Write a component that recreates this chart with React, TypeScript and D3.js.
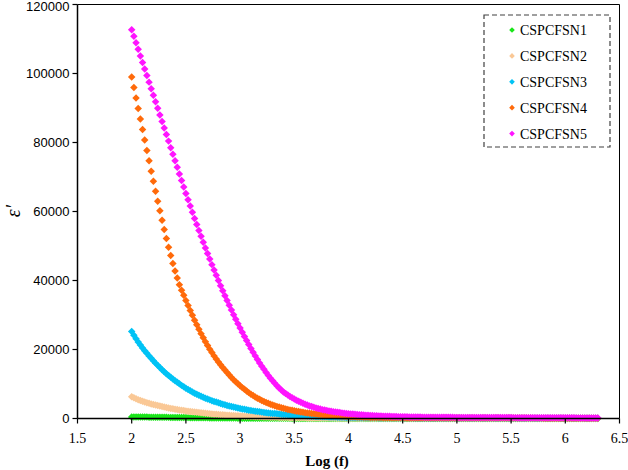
import React from "react";
import * as d3 from "d3";

// Measurement grid: log10(f) from 2.00 to 6.30 in 0.02 steps (216 points)
const logF: number[] = d3.range(0, 216).map((i) => +(2 + i * 0.02).toFixed(2));

const seriesNames = ["CSPCFSN1", "CSPCFSN2", "CSPCFSN3", "CSPCFSN4", "CSPCFSN5"];

const cspcfsn1 = [
  460,452,444,436,428,420,412,404,396,388,
  380,372,364,356,348,340,332,324,316,308,
  300,292,284,276,268,260,252,244,236,228,
  220,213,206,199,192,185,178,171,164,157,
  150,145,140,135,130,125,120,115,110,105,
  100,96,92,88,84,80,77,74,71,68,
  65,62,59,56,53,50,48,46,44,42,
  40,38,36,34,32,30,29,28,27,26,
  25,24,23,22,21,20,19,18,17,16,
  15,15,14,14,13,13,12,12,11,11,
  10,10,10,9,9,9,9,8,8,8,
  8,8,7,7,7,7,7,6,6,6,
  6,6,6,6,5,5,5,5,5,5,
  5,5,5,4,4,4,4,4,4,4,
  4,4,4,4,4,3,3,3,3,3,
  3,3,3,3,3,3,3,3,3,3,
  3,3,2,2,2,2,2,2,2,2,
  2,2,2,2,2,2,2,2,2,2,
  2,2,2,2,2,2,2,2,2,2,
  2,2,2,2,2,2,2,2,2,2,
  2,2,2,2,2,2,2,2,2,2,
  2,2,2,2,2,2,
];

const cspcfsn2 = [
  6300,6000,5720,5460,5220,5000,4790,4590,4400,4220,
  4050,3890,3740,3590,3450,3310,3180,3050,2930,2810,
  2700,2590,2490,2390,2290,2200,2110,2020,1940,1860,
  1780,1710,1640,1570,1500,1440,1380,1320,1260,1210,
  1160,1110,1060,1010,970,930,890,850,810,770,
  740,710,680,650,620,590,560,540,510,490,
  470,450,430,410,390,370,350,340,320,310,
  290,280,260,250,240,230,220,210,200,190,
  180,170,165,160,155,150,145,140,135,130,
  125,120,116,112,108,104,100,97,94,91,
  88,85,82,79,76,74,72,70,68,66,
  64,62,60,58,56,55,54,53,52,51,
  50,49,48,47,46,45,44,43,42,41,
  40,40,39,39,38,38,37,37,36,36,
  35,35,34,34,33,33,32,32,31,31,
  30,30,30,29,29,29,28,28,28,27,
  27,27,26,26,26,25,25,25,24,24,
  24,23,23,23,22,22,22,21,21,21,
  20,20,20,20,19,19,19,19,18,18,
  18,18,17,17,17,17,16,16,16,16,
  15,15,15,15,14,14,14,14,13,13,
  13,13,12,12,12,12,
];

const cspcfsn3 = [
  25200,24150,23150,22200,21300,20450,19650,18900,18150,17450,
  16750,16050,15400,14750,14150,13550,13000,12450,11950,11450,
  10950,10500,10050,9600,9200,8800,8400,8050,7700,7350,
  7050,6750,6450,6150,5900,5650,5400,5150,4950,4750,
  4550,4350,4150,3970,3800,3630,3470,3320,3170,3030,
  2900,2770,2650,2530,2420,2310,2210,2110,2020,1930,
  1850,1770,1690,1620,1550,1480,1420,1360,1300,1240,
  1190,1140,1090,1040,990,950,910,870,830,790,
  760,720,690,660,630,600,570,550,520,500,
  480,460,440,420,400,380,365,350,335,320,
  305,295,285,275,265,255,245,235,225,215,
  205,198,191,184,177,170,164,158,152,146,
  140,136,132,128,124,120,117,114,111,108,
  105,103,101,99,97,95,93,91,89,87,
  85,84,83,82,81,80,79,78,77,76,
  75,74,73,72,71,70,69,68,67,66,
  65,64,63,62,61,60,60,59,59,58,
  58,57,57,56,56,55,55,54,54,53,
  53,52,52,51,51,50,50,50,49,49,
  49,48,48,48,47,47,47,46,46,46,
  45,45,45,44,44,44,43,43,43,42,
  42,42,41,41,41,40,
];

const cspcfsn4 = [
  99000,95950,92900,89850,86800,83750,80700,77700,74700,71700,
  68750,65850,63000,60200,57450,54750,52150,49650,47250,44950,
  42750,40700,38750,37200,35700,34200,32750,31300,29900,28500,
  27150,25850,24600,23400,22250,21150,20100,19100,18150,17250,
  16400,15600,14800,14050,13300,12600,11900,11250,10650,10050,
  9500,8950,8450,7950,7500,7050,6650,6250,5900,5550,
  5250,4950,4650,4400,4150,3900,3700,3500,3300,3120,
  2950,2790,2640,2500,2370,2240,2120,2000,1900,1800,
  1700,1610,1520,1440,1360,1290,1220,1150,1090,1030,
  970,920,870,820,780,740,700,660,620,590,
  560,530,500,470,450,420,400,380,360,340,
  320,300,290,280,270,260,250,240,230,220,
  210,205,200,195,190,185,180,178,176,174,
  172,170,168,166,164,162,160,159,158,157,
  156,155,154,153,152,151,150,149,148,147,
  146,145,144,143,142,141,140,139,138,137,
  136,135,134,133,132,131,130,129,128,127,
  126,125,124,123,122,121,120,119,118,117,
  116,115,114,113,112,111,110,109,108,107,
  106,105,104,103,102,101,100,99,98,97,
  96,95,94,93,92,91,90,89,88,87,
  86,85,84,83,82,81,
];

const cspcfsn5 = [
  112700,110800,108900,107000,105100,103200,101300,99400,97500,95600,
  93700,91800,89900,88000,86100,84200,82300,80400,78500,76600,
  74700,72800,70900,69000,67100,65250,63400,61600,59800,58000,
  56250,54500,52800,51100,49450,47800,46200,44600,43050,41500,
  40000,38500,37050,35600,34200,32800,31450,30100,28800,27500,
  26250,25000,23800,22600,21450,20300,19200,18150,17100,16100,
  15150,14250,13350,12500,11700,10950,10200,9500,8850,8250,
  7700,7250,6800,6400,6000,5650,5300,5000,4700,4400,
  4150,3900,3650,3450,3250,3050,2880,2720,2570,2430,
  2320,2200,2090,1990,1890,1800,1710,1630,1550,1480,
  1410,1340,1280,1220,1160,1110,1060,1010,970,930,
  890,850,810,780,750,720,690,660,640,620,
  600,580,560,540,520,505,490,475,460,450,
  440,430,420,410,400,395,390,385,380,375,
  370,365,360,355,350,345,340,335,330,325,
  320,318,315,312,310,308,305,302,300,298,
  295,292,290,288,285,282,280,278,275,272,
  270,268,265,262,260,258,255,252,250,248,
  245,242,240,238,235,232,230,228,225,222,
  220,218,215,212,210,208,205,202,200,198,
  195,192,190,188,185,182,180,178,175,172,
  170,168,165,162,160,158,
];

const seriesValues = [cspcfsn1, cspcfsn2, cspcfsn3, cspcfsn4, cspcfsn5];
const seriesColors = ["#19e619", "#fac896", "#00c3f5", "#ff6a0a", "#ff14ff"];

const xTicks = [1.5, 2, 2.5, 3, 3.5, 4, 4.5, 5, 5.5, 6, 6.5];
const yTicks = [0, 20000, 40000, 60000, 80000, 100000, 120000];

const W = 628;
const H = 470;
const M = { left: 77.5, right: 619.5, top: 4.5, bottom: 418.5 };

export default function App() {
  const x = d3.scaleLinear().domain([1.5, 6.5]).range([M.left, M.right]);
  const y = d3.scaleLinear().domain([0, 120000]).range([M.bottom, M.top]);
  const diamond = d3.symbol().type(d3.symbolSquare).size(28)();
  const legendDiamond = d3.symbol().type(d3.symbolSquare).size(16)();

  const legendX = 484;
  const legendY = 15;
  const legendW = 126;
  const legendH = 132;

  return (
    <svg
      width={W}
      height={H}
      style={{ position: "absolute", left: 0, top: 0, background: "#fff" }}
    >
      <rect x={0} y={0} width={W} height={H} fill="#fff" />
      {/* series */}
      {seriesValues.map((vals, si) => (
        <g key={si} fill={seriesColors[si]}>
          {vals.map((v, i) => (
            <path
              key={i}
              d={diamond!}
              transform={`translate(${x(logF[i])},${y(v)}) rotate(45)`}
            />
          ))}
        </g>
      ))}
      {/* frame */}
      <line x1={M.left} x2={M.right} y1={M.top} y2={M.top} stroke="#000" strokeWidth={1} />
      <line x1={M.right} x2={M.right} y1={M.top} y2={M.bottom} stroke="#000" strokeWidth={1} />
      {/* axes */}
      <line x1={M.left} x2={M.left} y1={M.top} y2={M.bottom} stroke="#000" strokeWidth={1.5} />
      <line x1={M.left} x2={M.right} y1={M.bottom} y2={M.bottom} stroke="#000" strokeWidth={1.5} />
      {yTicks.map((t) => (
        <g key={t}>
          <line x1={M.left - 5} x2={M.left} y1={y(t)} y2={y(t)} stroke="#000" strokeWidth={1.2} />
          <text
            x={M.left - 8}
            y={Math.max(y(t) + 4.5, 10.5)}
            textAnchor="end"
            fontFamily="'Liberation Sans', Arial, sans-serif"
            fontSize={13}
            fill="#000"
          >
            {t}
          </text>
        </g>
      ))}
      {xTicks.map((t) => (
        <g key={t}>
          <line x1={x(t)} x2={x(t)} y1={M.bottom} y2={M.bottom + 5} stroke="#000" strokeWidth={1.2} />
          <text
            x={x(t)}
            y={443}
            textAnchor="middle"
            fontFamily="'Liberation Serif', 'Times New Roman', serif"
            fontSize={14}
            fill="#000"
          >
            {t}
          </text>
        </g>
      ))}
      {/* axis titles */}
      <text
        x={327}
        y={466}
        textAnchor="middle"
        fontFamily="'Liberation Serif', 'Times New Roman', serif"
        fontWeight="bold"
        fontSize={15}
        fill="#000"
      >
        Log (f)
      </text>
      <text
        transform={`translate(20,211) rotate(-90)`}
        textAnchor="middle"
        fontFamily="'Liberation Serif', 'Times New Roman', serif"
        fontStyle="italic"
        fontSize={20}
        fill="#000"
      >
        ε′
      </text>
      {/* legend */}
      <rect
        x={legendX}
        y={legendY}
        width={legendW}
        height={legendH}
        fill="#fff"
        stroke="#404040"
        strokeWidth={1.2}
        strokeDasharray="5,3"
      />
      {seriesNames.map((name, i) => {
        const cy = 30 + i * 25.9;
        return (
          <g key={name}>
            <path d={legendDiamond!} transform={`translate(512,${cy}) rotate(45)`} fill={seriesColors[i]} />
            <text
              x={520}
              y={cy + 5}
              fontFamily="'Liberation Serif', 'Times New Roman', serif"
              fontSize={14}
              fill="#000"
            >
              {name}
            </text>
          </g>
        );
      })}
    </svg>
  );
}
